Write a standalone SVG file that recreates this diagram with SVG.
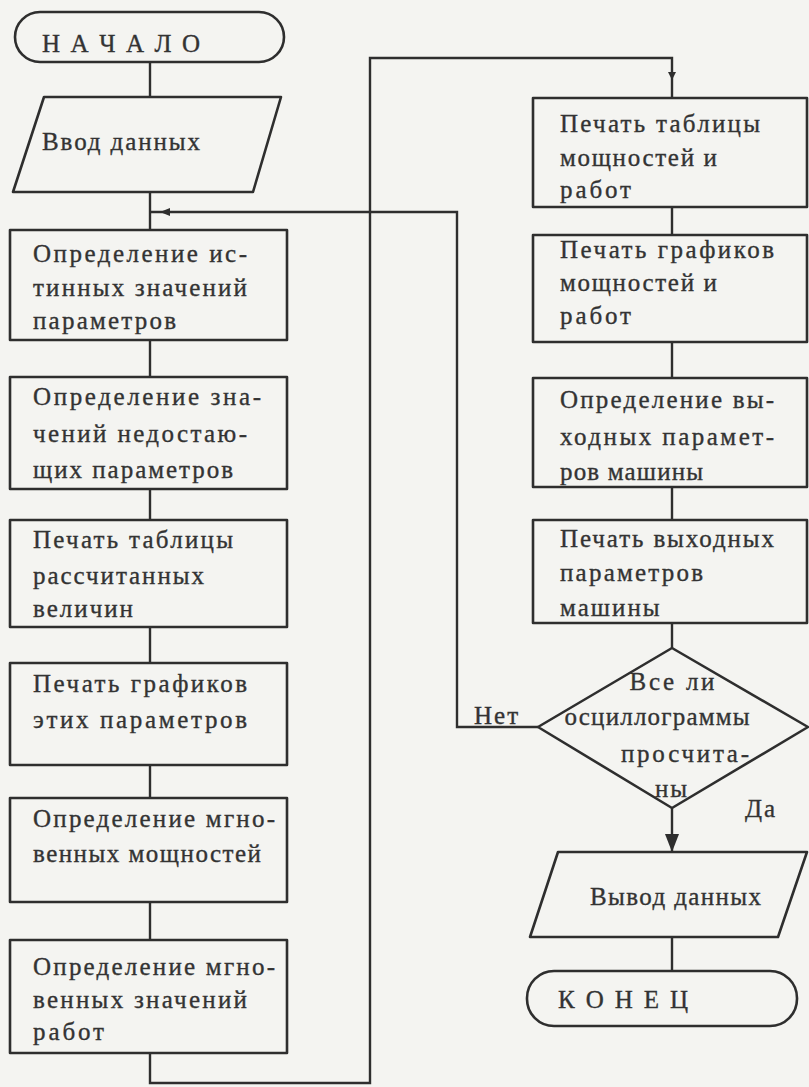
<svg xmlns="http://www.w3.org/2000/svg" width="809" height="1087" viewBox="0 0 809 1087">
<style>
.shape{fill:none;stroke:#2e2e2e;stroke-width:2.6;stroke-linejoin:round}
.conn{fill:none;stroke:#2e2e2e;stroke-width:2.4}
.t{font-family:"Liberation Serif","DejaVu Serif",serif;font-size:25px;fill:#333;stroke:#333;stroke-width:0.35}
.c{text-anchor:middle}
.ls{letter-spacing:2px}
</style>
<rect width="809" height="1087" fill="#f4f4f1"/>
<g id="connectors">
<path class="conn" d="M150,62 V97"/>
<path class="conn" d="M150,192 V230"/>
<path class="conn" d="M150,340 V377"/>
<path class="conn" d="M150,489 V520"/>
<path class="conn" d="M150,627 V663"/>
<path class="conn" d="M150,765 V798"/>
<path class="conn" d="M150,902 V940"/>
<path class="conn" d="M150,1053 V1083 H370 V58 H672 V98"/>
<path class="conn" d="M672,207 V235"/>
<path class="conn" d="M672,342 V378"/>
<path class="conn" d="M672,487 V520"/>
<path class="conn" d="M672,623 V648"/>
<path class="conn" d="M538,727 H457 V212 H150"/>
<path class="conn" d="M672,808 V852"/>
<polygon points="665,834 679,834 672,852" fill="#2e2e2e"/>
<polygon points="160,212 170,208 170,216" fill="#2e2e2e"/>
<polygon points="668,72 676,72 672,80" fill="#2e2e2e"/>
<path class="conn" d="M672,937 V971"/>
</g>
<g id="start">
<rect class="shape" x="15" y="12" width="269" height="50" rx="25"/>
<text class="t" x="42" y="52" textLength="158" lengthAdjust="spacing">Н А Ч А Л О</text>
</g>
<g id="input">
<polygon class="shape" points="44,97 281,97 253,192 13,192"/>
<text class="t" x="42" y="150" textLength="158" lengthAdjust="spacing">Ввод данных</text>
</g>
<g id="b1">
<rect class="shape" x="10" y="230" width="277" height="110"/>
<text class="t" x="33" y="262" textLength="214" lengthAdjust="spacing">Определение ис-</text>
<text class="t" x="33" y="296" textLength="214" lengthAdjust="spacing">тинных значений</text>
<text class="t" x="33" y="329" textLength="143" lengthAdjust="spacing">параметров</text>
</g>
<g id="b2">
<rect class="shape" x="10" y="377" width="277" height="112"/>
<text class="t" x="33" y="405" textLength="228" lengthAdjust="spacing">Определение зна-</text>
<text class="t" x="33" y="442" textLength="214" lengthAdjust="spacing">чений недостаю-</text>
<text class="t" x="33" y="478" textLength="200" lengthAdjust="spacing">щих параметров</text>
</g>
<g id="b3">
<rect class="shape" x="10" y="520" width="277" height="107"/>
<text class="t" x="33" y="548" textLength="200" lengthAdjust="spacing">Печать таблицы</text>
<text class="t" x="33" y="584" textLength="171" lengthAdjust="spacing">рассчитанных</text>
<text class="t" x="33" y="617" textLength="100" lengthAdjust="spacing">величин</text>
</g>
<g id="b4">
<rect class="shape" x="10" y="663" width="277" height="102"/>
<text class="t" x="33" y="692" textLength="214" lengthAdjust="spacing">Печать графиков</text>
<text class="t" x="33" y="728" textLength="214" lengthAdjust="spacing">этих параметров</text>
</g>
<g id="b5">
<rect class="shape" x="10" y="798" width="277" height="104"/>
<text class="t" x="33" y="827" textLength="242" lengthAdjust="spacing">Определение мгно-</text>
<text class="t" x="33" y="862" textLength="228" lengthAdjust="spacing">венных мощностей</text>
</g>
<g id="b6">
<rect class="shape" x="10" y="940" width="277" height="113"/>
<text class="t" x="33" y="975" textLength="242" lengthAdjust="spacing">Определение мгно-</text>
<text class="t" x="33" y="1008" textLength="214" lengthAdjust="spacing">венных значений</text>
<text class="t" x="33" y="1040" textLength="71" lengthAdjust="spacing">работ</text>
</g>
<g id="r1">
<rect class="shape" x="533" y="98" width="274" height="109"/>
<text class="t" x="560" y="132" textLength="200" lengthAdjust="spacing">Печать таблицы</text>
<text class="t" x="560" y="166" textLength="157" lengthAdjust="spacing">мощностей и</text>
<text class="t" x="560" y="198" textLength="71" lengthAdjust="spacing">работ</text>
</g>
<g id="r2">
<rect class="shape" x="533" y="235" width="274" height="107"/>
<text class="t" x="560" y="258" textLength="214" lengthAdjust="spacing">Печать графиков</text>
<text class="t" x="560" y="291" textLength="157" lengthAdjust="spacing">мощностей и</text>
<text class="t" x="560" y="324" textLength="71" lengthAdjust="spacing">работ</text>
</g>
<g id="r3">
<rect class="shape" x="533" y="378" width="274" height="109"/>
<text class="t" x="560" y="408" textLength="214" lengthAdjust="spacing">Определение вы-</text>
<text class="t" x="560" y="445" textLength="214" lengthAdjust="spacing">ходных парамет-</text>
<text class="t" x="560" y="480" textLength="143" lengthAdjust="spacing">ров машины</text>
</g>
<g id="r4">
<rect class="shape" x="533" y="520" width="274" height="103"/>
<text class="t" x="560" y="547" textLength="214" lengthAdjust="spacing">Печать выходных</text>
<text class="t" x="560" y="581" textLength="143" lengthAdjust="spacing">параметров</text>
<text class="t ls" x="560" y="616">машины</text>
</g>
<g id="decision">
<polygon class="shape" points="672,648 808,727 672,808 538,727"/>
<text class="t c" x="672" y="690" textLength="85" lengthAdjust="spacing">Все ли</text>
<text class="t c" x="657" y="725" textLength="185" lengthAdjust="spacing">осциллограммы</text>
<text class="t c" x="685" y="762" textLength="128" lengthAdjust="spacing">просчита-</text>
<text class="t c ls" x="672" y="797">ны</text>
<text class="t ls" x="474" y="724">Нет</text>
<text class="t ls" x="745" y="817">Да</text>
</g>
<g id="output">
<polygon class="shape" points="558,852 807,852 778,937 530,937"/>
<text class="t" x="590" y="905" textLength="171" lengthAdjust="spacing">Вывод данных</text>
</g>
<g id="end">
<rect class="shape" x="527" y="971" width="270" height="55" rx="27"/>
<text class="t" x="558" y="1008" textLength="130" lengthAdjust="spacing">К О Н Е Ц</text>
</g>
</svg>
